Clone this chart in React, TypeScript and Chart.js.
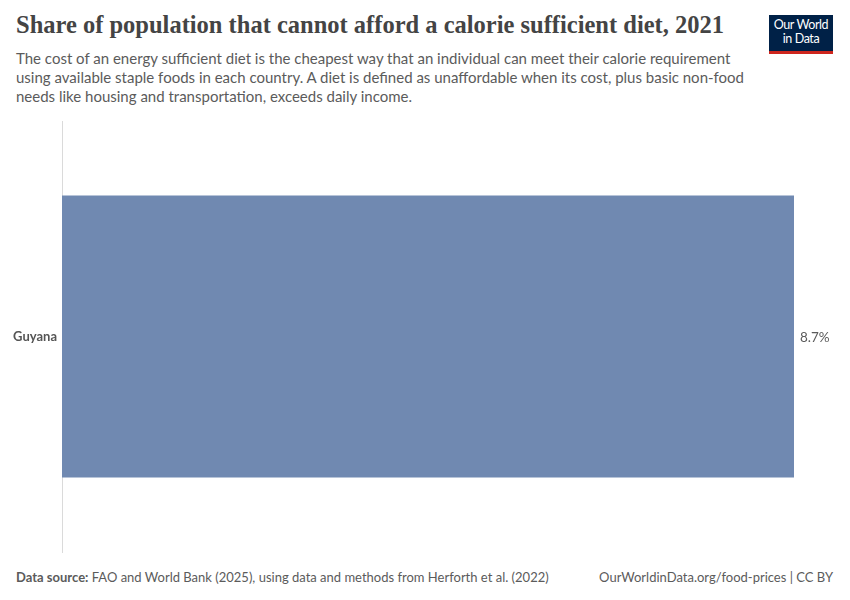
import React, { useEffect, useRef } from "react";
import { Chart, registerables } from "chart.js";

Chart.register(...registerables);

const categories: string[] = ["Guyana"];
const values: number[] = [8.7];
const valueLabels: string[] = ["8.7%"];

const TITLE = "Share of population that cannot afford a calorie sufficient diet, 2021";
const SUBTITLE_LINES = [
  "The cost of an energy sufficient diet is the cheapest way that an individual can meet their calorie requirement",
  "using available staple foods in each country. A diet is defined as unaffordable when its cost, plus basic non-food",
  "needs like housing and transportation, exceeds daily income.",
];

export default function App() {
  const ref = useRef<HTMLCanvasElement | null>(null);

  useEffect(() => {
    document.body.style.margin = "0";
    if (!ref.current) return;
    const valueLabelPlugin = {
      id: "valueLabels",
      afterDatasetsDraw(chart: any) {
        const ctx = chart.ctx;
        const meta = chart.getDatasetMeta(0);
        ctx.save();
        ctx.font = "13.5px Lato";
        ctx.fillStyle = "#5b5b5b";
        ctx.textAlign = "left";
        ctx.textBaseline = "middle";
        meta.data.forEach((bar: any, i: number) => {
          ctx.fillText(valueLabels[i], bar.x + 6, bar.y + 1);
        });
        ctx.restore();
      },
    };
    const chart = new Chart(ref.current, {
      type: "bar",
      data: {
        labels: categories,
        datasets: [
          {
            data: values,
            backgroundColor: "#7089b1",
            borderWidth: 0,
            categoryPercentage: 1,
            barPercentage: 0.654,
          },
        ],
      },
      options: {
        indexAxis: "y",
        animation: false,
        responsive: false,
        maintainAspectRatio: false,
        layout: { padding: { left: 0, right: 56, top: 10, bottom: 9 } },
        plugins: {
          legend: { display: false },
          tooltip: { enabled: false },
        },
        scales: {
          x: {
            display: false,
            min: 0,
            max: 8.7,
          },
          y: {
            afterFit: (s: any) => {
              s.width = 62;
              s.paddingTop = 0;
              s.paddingBottom = 0;
            },
            grid: { display: false, drawTicks: false },
            border: { display: true, color: "#dadada", width: 1 },
            ticks: {
              padding: 5,
              color: "#555555",
              font: { family: "Lato", size: 13, weight: "bold" },
            },
          },
        },
      },
      plugins: [valueLabelPlugin],
    });
    return () => chart.destroy();
  }, []);

  return (
    <div
      style={{
        position: "fixed",
        left: 0,
        top: 0,
        width: 850,
        height: 600,
        background: "#ffffff",
        fontFamily: "Lato, sans-serif",
        overflow: "hidden",
      }}
    >
      <div
        style={{
          position: "absolute",
          left: 16,
          top: 11,
          fontFamily: "'Liberation Serif', serif",
          fontSize: 24.5,
          fontWeight: "bold",
          color: "#444444",
          whiteSpace: "nowrap",
          letterSpacing: 0,
        }}
      >
        {TITLE}
      </div>
      <div
        style={{
          position: "absolute",
          left: 16,
          top: 49,
          fontSize: 15,
          lineHeight: "19px",
          color: "#5b5b5b",
          whiteSpace: "nowrap",
        }}
      >
        {SUBTITLE_LINES.map((l, i) => (
          <div key={i}>{l}</div>
        ))}
      </div>
      <div
        style={{
          position: "absolute",
          left: 769,
          top: 15,
          width: 64,
          height: 33,
          background: "#002147",
          borderBottom: "3px solid #ce261e",
          color: "#ffffff",
          fontSize: 12.5,
          lineHeight: "13.5px",
          textAlign: "center",
          paddingTop: 3,
          boxSizing: "content-box",
          letterSpacing: -0.4,
        }}
      >
        <div>Our World</div>
        <div>in Data</div>
      </div>
      <canvas
        ref={ref}
        width={850}
        height={450}
        style={{ position: "absolute", left: 0, top: 111, width: 850, height: 450 }}
      />
      <div
        style={{
          position: "absolute",
          left: 16,
          top: 569,
          fontSize: 13,
          color: "#5b5b5b",
          whiteSpace: "nowrap",
        }}
      >
        <b>Data source:</b> FAO and World Bank (2025), using data and methods from Herforth et al. (2022)
      </div>
      <div
        style={{
          position: "absolute",
          right: 17,
          top: 569,
          fontSize: 13,
          color: "#5b5b5b",
          whiteSpace: "nowrap",
        }}
      >
        OurWorldinData.org/food-prices | CC BY
      </div>
    </div>
  );
}
